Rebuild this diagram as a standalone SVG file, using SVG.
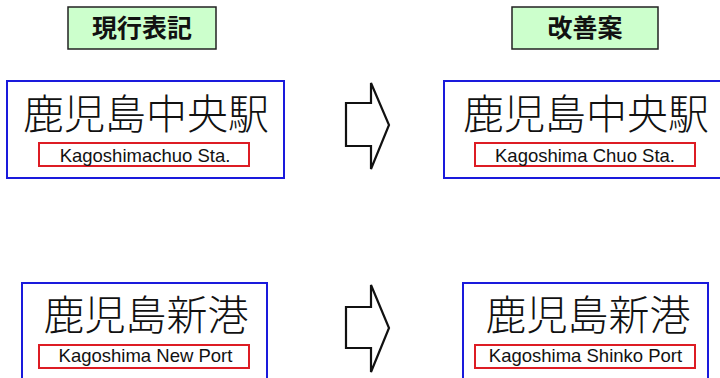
<svg xmlns="http://www.w3.org/2000/svg" width="720" height="378" viewBox="0 0 720 378">
<style>
.hdr{fill:#ccffcc;stroke:#222;stroke-width:1.5}
.hdrt{font-family:"Noto Sans CJK JP","Noto Sans CJK SC",sans-serif;font-weight:bold;font-size:25px;fill:#111;text-anchor:middle}
.sign{fill:#fff;stroke:#1a1adc;stroke-width:2}
.jp{font-family:"Noto Sans CJK JP","Noto Sans CJK SC",sans-serif;font-weight:300;font-size:41px;fill:#111;text-anchor:middle}
.en-box{fill:#fff;stroke:#dd1c24;stroke-width:2}
.en{font-family:"Liberation Sans",Arial,sans-serif;font-size:18.5px;fill:#111;text-anchor:middle}
.arrow{fill:#fff;stroke:#111;stroke-width:2.2;stroke-linejoin:miter}
</style>
<rect width="720" height="378" fill="#fff"/>
<g id="header-current">
<rect class="hdr" x="68" y="7" width="148" height="42"/>
<text class="hdrt" x="142" y="37">現行表記</text>
</g>
<g id="header-proposal">
<rect class="hdr" x="512" y="7" width="146" height="42"/>
<text class="hdrt" x="585" y="37">改善案</text>
</g>
<g id="sign-chuo-current">
<rect class="sign" x="7" y="81" width="277" height="97"/>
<text class="jp" x="146" y="129">鹿児島中央駅</text>
<rect class="en-box" x="39" y="143" width="210" height="23"/>
<text class="en" x="145" y="162">Kagoshimachuo Sta.</text>
</g>
<g id="sign-chuo-proposal">
<rect class="sign" x="444" y="81" width="280" height="97"/>
<text class="jp" x="586" y="129">鹿児島中央駅</text>
<rect class="en-box" x="475" y="143" width="220" height="23"/>
<text class="en" x="585" y="162">Kagoshima Chuo Sta.</text>
</g>
<g id="sign-port-current">
<rect class="sign" x="22" y="283" width="245" height="96"/>
<text class="jp" x="146" y="330">鹿児島新港</text>
<rect class="en-box" x="39" y="345" width="210" height="23"/>
<text class="en" x="145.5" y="362">Kagoshima New Port</text>
</g>
<g id="sign-port-proposal">
<rect class="sign" x="463" y="283" width="245" height="96"/>
<text class="jp" x="588" y="330">鹿児島新港</text>
<rect class="en-box" x="475" y="345" width="220" height="23"/>
<text class="en" x="585.5" y="362">Kagoshima Shinko Port</text>
</g>
<g id="connectors">
<path class="arrow" d="M346,103 L371,103 L371,83 L389,125 L371,169 L371,146 L346,146 Z"/>
<path class="arrow" d="M346,307 L371,307 L371,285 L389,328 L371,372 L371,348 L346,348 Z"/>
</g>
</svg>
